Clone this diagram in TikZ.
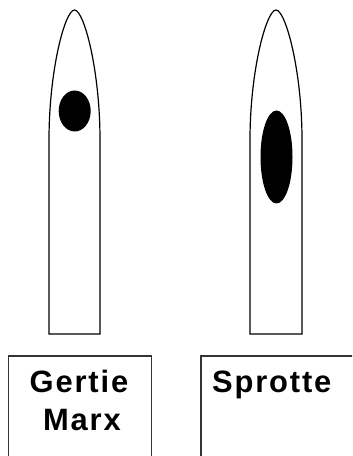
\documentclass[tikz,border=0pt]{standalone}
\usepackage{fontspec}
\setmainfont{Liberation Sans}
\newfontfamily\namefont[LetterSpace=6]{Liberation Sans Bold}

\begin{document}
\begin{tikzpicture}[x=1bp, y=-1bp,
  tube/.style={draw=black, line width=1.2bp, fill=white},
  spot/.style={fill=black},
  namebox/.style={draw=black!80, line width=1.1bp},
  nametext/.style={font=\namefont\fontsize{31}{39}\selectfont, inner sep=0pt}
]
\clip (0,0) rectangle (352,456);
% left tube
\draw[tube] (49,334) -- (49,140) .. controls (49,70) and (65,10) .. (74.5,10)
  .. controls (84,10) and (100,70) .. (100,140) -- (100,334) -- cycle;
\fill[spot] (74.7,111) ellipse [x radius=16, y radius=20.5];
% right tube
\draw[tube] (250,334) -- (250,140) .. controls (250,70) and (266.5,10) .. (276,10)
  .. controls (285.5,10) and (302,70) .. (302,140) -- (302,334) -- cycle;
\fill[spot] (276.5,157) ellipse [x radius=16, y radius=46.5];
% name boxes
\draw[namebox] (8.5,356) rectangle (151.5,470);
\draw[namebox] (201,356) rectangle (370,470);
\node[nametext, anchor=base] (gertie) at (79,392) {Gertie};
\node[nametext, anchor=base] (marx) at (82,430) {Marx};
\node[nametext, anchor=base west] (sprotte) at (212,392) {Sprotte};
\end{tikzpicture}
\end{document}
